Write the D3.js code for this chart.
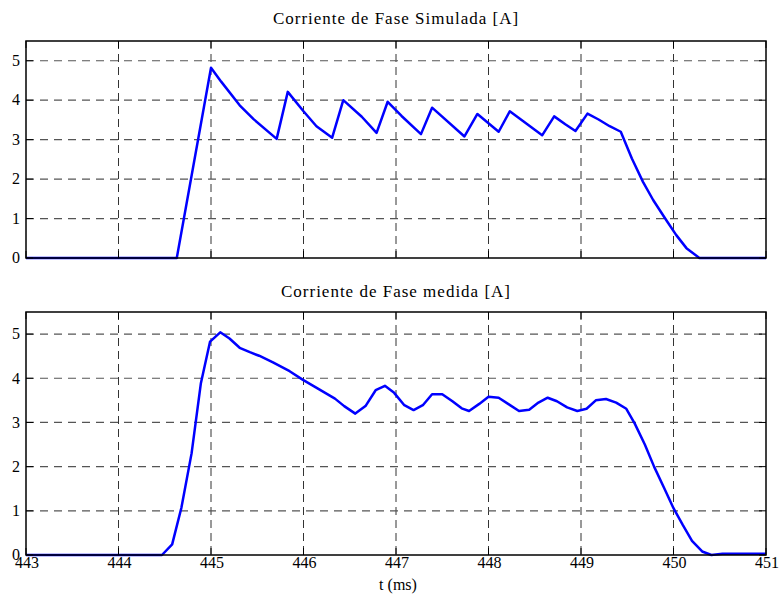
<!DOCTYPE html>
<html>
<head>
<meta charset="utf-8">
<script src="https://cdn.jsdelivr.net/npm/d3@7"></script>
<style>
  body { margin: 0; background: #fff; }
</style>
</head>
<body>
<svg id="chart" width="779" height="602" font-family="'Liberation Serif', 'DejaVu Serif', serif"></svg>
<script>
// Simulated phase current (A) against time (ms)
const timeSimulated = [443, 444.63, 445.0, 445.11, 445.31, 445.46, 445.71, 445.83, 446.0, 446.14, 446.31,
  446.43, 446.63, 446.79, 446.91, 447.06, 447.27, 447.39, 447.74, 447.88, 448.11, 448.23, 448.58,
  448.71, 448.83, 448.94, 449.07, 449.19, 449.31, 449.43, 449.55, 449.67, 449.78, 449.91, 450.03,
  450.14, 450.28, 451];
const currentSimulated = [0, 0, 4.82, 4.47, 3.87, 3.52, 3.02, 4.21, 3.72, 3.34, 3.05,
  4.0, 3.58, 3.17, 3.96, 3.6, 3.14, 3.81, 3.08, 3.65, 3.2, 3.72, 3.11,
  3.59, 3.39, 3.22, 3.66, 3.51, 3.34, 3.2, 2.52, 1.93, 1.47, 1.0, 0.58,
  0.25, 0, 0];

// Measured phase current (A) against time (ms)
const timeMeasured = [443, 444.47, 444.58, 444.68, 444.79, 444.89, 444.99, 445.1, 445.2, 445.31, 445.42,
  445.52, 445.67, 445.85, 445.99, 446.17, 446.34, 446.44, 446.56, 446.67, 446.78, 446.88, 446.98,
  447.09, 447.19, 447.29, 447.39, 447.5, 447.61, 447.71, 447.79, 447.9, 448.0, 448.11, 448.22,
  448.33, 448.44, 448.54, 448.64, 448.74, 448.85, 448.96, 449.06, 449.16, 449.27, 449.38, 449.49,
  449.58, 449.69, 449.79, 449.9, 450.0, 450.1, 450.2, 450.31, 450.41, 450.53, 451];
const currentMeasured = [0, 0, 0.24, 1.07, 2.3, 3.88, 4.83, 5.04, 4.9, 4.69, 4.59,
  4.51, 4.36, 4.16, 3.97, 3.75, 3.54, 3.37, 3.2, 3.37, 3.73, 3.83, 3.67,
  3.39, 3.28, 3.39, 3.64, 3.64, 3.48, 3.32, 3.26, 3.42, 3.58, 3.56, 3.41,
  3.26, 3.29, 3.45, 3.56, 3.48, 3.34, 3.26, 3.31, 3.5, 3.53, 3.45, 3.31,
  2.98, 2.5, 2.0, 1.51, 1.06, 0.68, 0.32, 0.08, 0.0, 0.03, 0.03];

const timeTicks = [443, 444, 445, 446, 447, 448, 449, 450, 451];
const currentTicks = [0, 1, 2, 3, 4, 5];
const panelTitles = ["Corriente de Fase Simulada [A]", "Corriente de Fase medida [A]"];
const timeLabel = "t (ms)";

const svg = d3.select("#chart");
const plotLeft = 26, plotRight = 766;
const tickLen = 7;

const panels = [
  { top: 41, bottom: 258, t: timeSimulated, v: currentSimulated, title: panelTitles[0], titleY: 24, timeLabels: false },
  { top: 312, bottom: 555, t: timeMeasured, v: currentMeasured, title: panelTitles[1], titleY: 297, timeLabels: true }
];

panels.forEach(p => {
  const x = d3.scaleLinear().domain([443, 451]).range([plotLeft, plotRight]);
  const y = d3.scaleLinear().domain([0, 5.5]).range([p.bottom, p.top]);
  const g = svg.append("g");

  // dashed grid
  g.append("g").selectAll("line")
    .data(timeTicks.slice(1, -1))
    .join("line")
    .attr("x1", d => x(d)).attr("x2", d => x(d))
    .attr("y1", p.top).attr("y2", p.bottom)
    .attr("stroke", "#333").attr("stroke-width", 1)
    .attr("stroke-dasharray", "8,5");
  g.append("g").selectAll("line")
    .data(currentTicks.slice(1))
    .join("line")
    .attr("x1", plotLeft).attr("x2", plotRight)
    .attr("y1", d => y(d)).attr("y2", d => y(d))
    .attr("stroke", "#555").attr("stroke-width", 1.2)
    .attr("stroke-dasharray", "8,6");

  // current trace
  const pts = p.t.map((t, i) => [t, p.v[i]]);
  g.append("path")
    .datum(pts)
    .attr("fill", "none")
    .attr("stroke", "#0000ff")
    .attr("stroke-width", 2.5)
    .attr("stroke-linejoin", "round")
    .attr("d", d3.line().x(d => x(d[0])).y(d => y(d[1])));

  // axes box with inward ticks on all sides
  g.append("rect")
    .attr("x", plotLeft).attr("y", p.top)
    .attr("width", plotRight - plotLeft).attr("height", p.bottom - p.top)
    .attr("fill", "none").attr("stroke", "#000").attr("stroke-width", 1.5);

  const ticks = g.append("g").attr("stroke", "#000").attr("stroke-width", 1);
  timeTicks.forEach(d => {
    ticks.append("line").attr("x1", x(d)).attr("x2", x(d)).attr("y1", p.bottom).attr("y2", p.bottom - tickLen);
    ticks.append("line").attr("x1", x(d)).attr("x2", x(d)).attr("y1", p.top).attr("y2", p.top + tickLen);
  });
  currentTicks.forEach(d => {
    ticks.append("line").attr("x1", plotLeft).attr("x2", plotLeft + tickLen).attr("y1", y(d)).attr("y2", y(d));
    ticks.append("line").attr("x1", plotRight).attr("x2", plotRight - tickLen).attr("y1", y(d)).attr("y2", y(d));
  });

  // current tick labels
  g.append("g").selectAll("text")
    .data(currentTicks)
    .join("text")
    .attr("x", plotLeft - 6)
    .attr("y", d => y(d))
    .attr("dy", "0.33em")
    .attr("text-anchor", "end")
    .attr("font-size", 16)
    .text(d => d);

  if (p.timeLabels) {
    g.append("g").selectAll("text")
      .data(timeTicks)
      .join("text")
      .attr("x", d => x(d) + 1)
      .attr("y", p.bottom + 13)
      .attr("text-anchor", "middle")
      .attr("font-size", 16)
      .text(d => d);
    g.append("text")
      .attr("x", (plotLeft + plotRight) / 2 + 2)
      .attr("y", p.bottom + 35)
      .attr("text-anchor", "middle")
      .attr("font-size", 16)
      .text(timeLabel);
  }

  g.append("text")
    .attr("x", (plotLeft + plotRight) / 2)
    .attr("y", p.titleY)
    .attr("text-anchor", "middle")
    .attr("font-size", 17)
    .attr("letter-spacing", "1px")
    .text(p.title);
});
</script>
</body>
</html>
